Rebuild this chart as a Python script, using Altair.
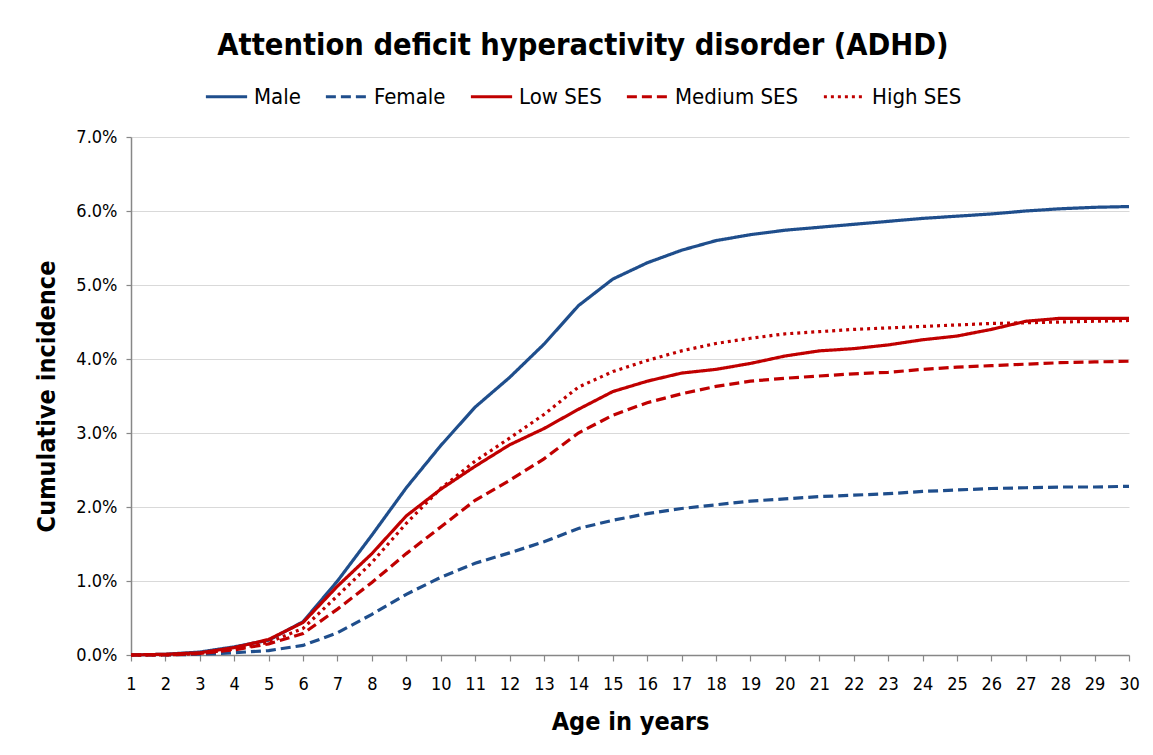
import altair as alt
import pandas as pd

ages = list(range(1, 31))
series_names = ["Male", "Female", "Low SES", "Medium SES", "High SES"]

male = [0.00, 0.01, 0.04, 0.11, 0.20, 0.45, 1.00, 1.62, 2.26, 2.83, 3.35, 3.75, 4.20, 4.72, 5.08,
        5.30, 5.47, 5.60, 5.68, 5.74, 5.78, 5.82, 5.86, 5.90, 5.93, 5.96, 6.00, 6.03, 6.05, 6.06]
female = [0.00, 0.00, 0.01, 0.03, 0.06, 0.13, 0.30, 0.55, 0.82, 1.05, 1.24, 1.38, 1.53, 1.71, 1.82,
          1.91, 1.98, 2.03, 2.08, 2.11, 2.14, 2.16, 2.18, 2.21, 2.23, 2.25, 2.26, 2.27, 2.27, 2.28]
low_ses = [0.00, 0.01, 0.03, 0.10, 0.21, 0.44, 0.93, 1.37, 1.88, 2.24, 2.55, 2.84, 3.06, 3.32, 3.56,
           3.70, 3.81, 3.86, 3.94, 4.04, 4.11, 4.14, 4.19, 4.26, 4.31, 4.40, 4.51, 4.55, 4.55, 4.55]
medium_ses = [0.00, 0.00, 0.02, 0.07, 0.15, 0.29, 0.62, 0.98, 1.37, 1.73, 2.09, 2.36, 2.65, 3.00, 3.24,
              3.41, 3.53, 3.63, 3.70, 3.74, 3.77, 3.80, 3.82, 3.86, 3.89, 3.91, 3.93, 3.95, 3.96, 3.97]
high_ses = [0.00, 0.00, 0.02, 0.08, 0.17, 0.36, 0.80, 1.25, 1.78, 2.25, 2.62, 2.93, 3.25, 3.62, 3.83,
            3.98, 4.11, 4.21, 4.28, 4.34, 4.37, 4.40, 4.42, 4.44, 4.46, 4.48, 4.49, 4.50, 4.51, 4.52]

y_ticks = [0, 0.01, 0.02, 0.03, 0.04, 0.05, 0.06, 0.07]

rows = []
for name, vals in zip(series_names, [male, female, low_ses, medium_ses, high_ses]):
    for a, v in zip(ages, vals):
        rows.append({"age": a, "value": v / 100.0, "series": name})
df = pd.DataFrame(rows)

FONT = "Liberation Sans Narrow, DejaVu Sans Condensed, sans-serif"
BLUE = "#1F4E8C"
RED = "#C00000"

chart = alt.Chart(df).mark_line(strokeWidth=3.2).encode(
    x=alt.X("age:Q",
            scale=alt.Scale(domain=[1, 30], nice=False, zero=False),
            axis=alt.Axis(values=ages, format="d", title="Age in years",
                          grid=False, tickSize=6, labelPadding=14,
                          labelFlush=False, labelOverlap=False,
                          titlePadding=16)),
    y=alt.Y("value:Q",
            scale=alt.Scale(domain=[0, 0.07], nice=False),
            axis=alt.Axis(values=y_ticks, format=".1%", title="Cumulative incidence",
                          tickSize=5, labelPadding=9, titlePadding=16)),
    color=alt.Color("series:N",
                    scale=alt.Scale(domain=series_names,
                                    range=[BLUE, BLUE, RED, RED, RED]),
                    legend=alt.Legend(title=None)),
    strokeDash=alt.StrokeDash("series:N",
                              scale=alt.Scale(domain=series_names,
                                              range=[[1, 0], [10, 5], [1, 0], [10, 5], [3, 4]]),
                              legend=alt.Legend(title=None)),
    order=alt.Order("age:Q"),
).properties(
    width=998,
    height=518,
    title=alt.TitleParams("Attention deficit hyperactivity disorder (ADHD)",
                          fontSize=30.5, font=FONT, fontWeight="bold", color="#000000",
                          anchor="middle", dx=-47, offset=13),
    padding={"left": 123, "top": 129, "right": 16, "bottom": 80},
    autosize=alt.AutoSizeParams(type="none"),
).configure(
    font=FONT,
).configure_view(
    stroke=None,
).configure_axis(
    labelFont=FONT, labelFontSize=18, labelColor="#000000",
    titleFont=FONT, titleFontSize=25, titleFontWeight="bold", titleColor="#000000",
    domainColor="#878787", domainWidth=1.5, tickColor="#878787", tickWidth=1.2,
    gridColor="#D9D9D9", gridWidth=1.2,
).configure_legend(
    orient="none", legendX=73, legendY=-63, direction="horizontal",
    symbolType="stroke", symbolSize=1700, symbolStrokeWidth=3,
    labelFont=FONT, labelFontSize=22, labelColor="#000000",
    labelOffset=5, columnPadding=18, symbolOffset=0,
)

chart.save("out.html", embed_options={"renderer": "svg", "actions": False})
